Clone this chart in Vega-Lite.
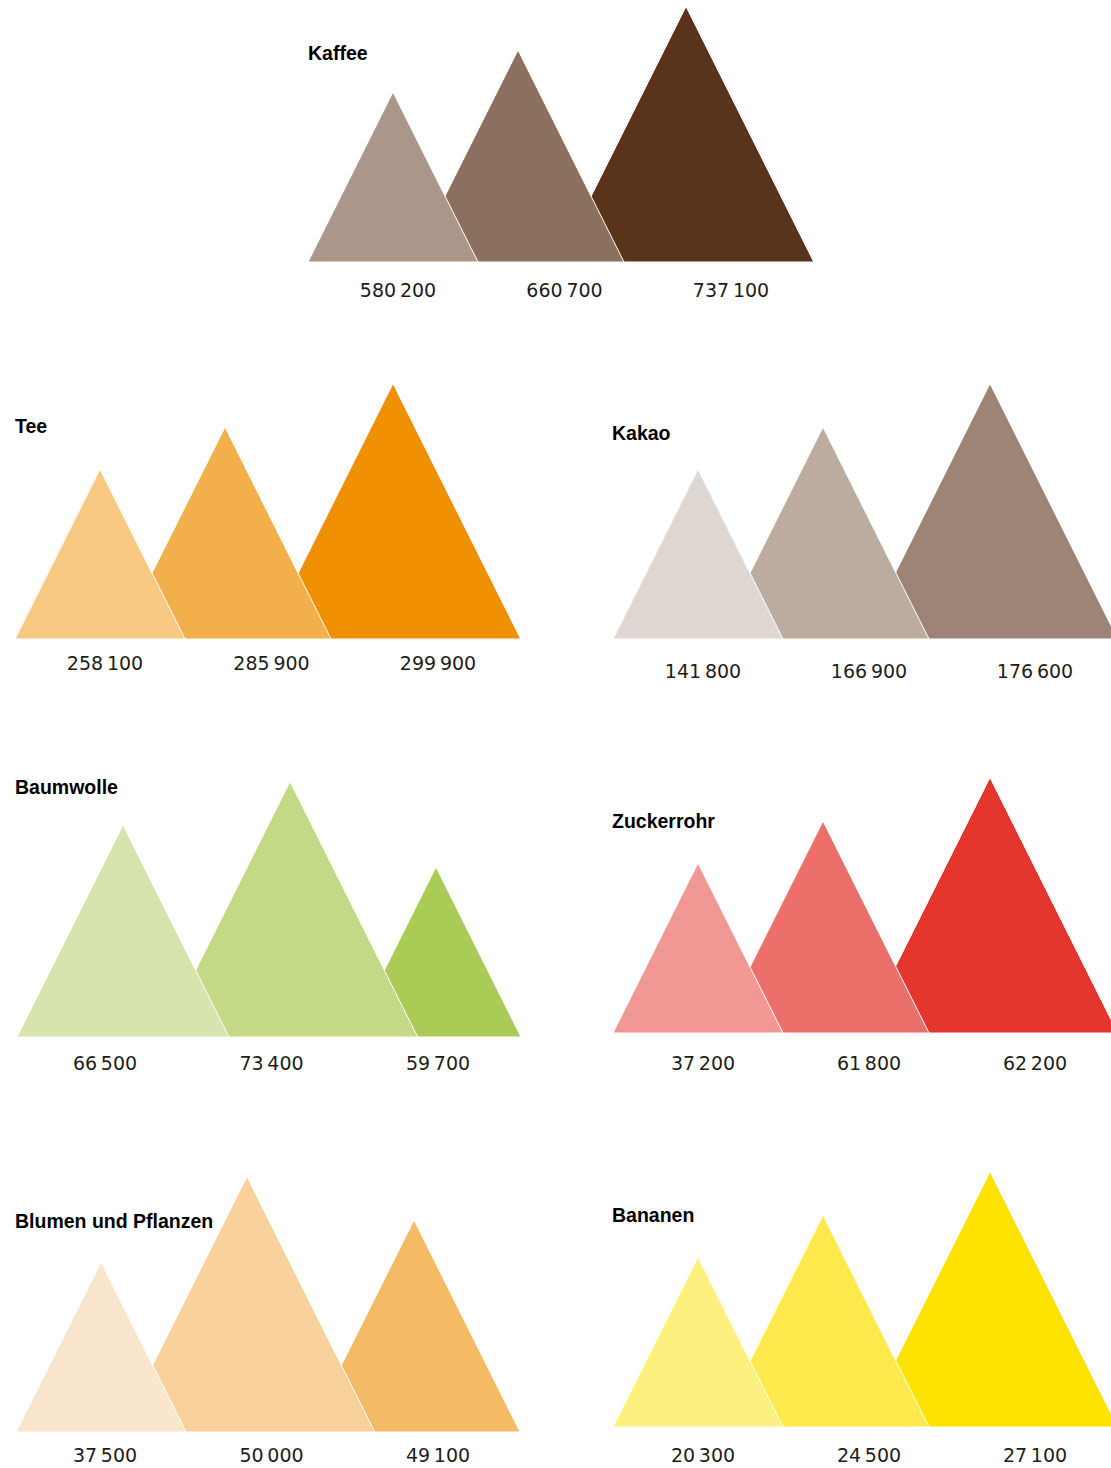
{
  "$schema": "https://vega.github.io/schema/vega-lite/v6.json",
  "padding": {"left": 13, "top": 1, "right": 0, "bottom": 0},
  "background": "white",
  "bounds": "flush",
  "spacing": 0,
  "columns": 2,
  "config": {
    "view": {"stroke": null},
    "locale": {"number": {"decimal": ",", "thousands": "\u2009", "grouping": [3], "currency": ["", " €"]}},
    "title": {"font": "Liberation Sans", "fontSize": 19.5, "fontWeight": "bold", "color": "#000000", "anchor": "start", "frame": "group", "baseline": "middle"},
    "text": {"font": "DejaVu Sans", "fontSize": 19, "color": "#1d1d1b"}
  },
  "datasets": {
    "werte": [
      {"produkt": "Kaffee", "nr": 1, "wert": 580200},
      {"produkt": "Kaffee", "nr": 2, "wert": 660700},
      {"produkt": "Kaffee", "nr": 3, "wert": 737100},
      {"produkt": "Tee", "nr": 1, "wert": 258100},
      {"produkt": "Tee", "nr": 2, "wert": 285900},
      {"produkt": "Tee", "nr": 3, "wert": 299900},
      {"produkt": "Kakao", "nr": 1, "wert": 141800},
      {"produkt": "Kakao", "nr": 2, "wert": 166900},
      {"produkt": "Kakao", "nr": 3, "wert": 176600},
      {"produkt": "Baumwolle", "nr": 1, "wert": 66500},
      {"produkt": "Baumwolle", "nr": 2, "wert": 73400},
      {"produkt": "Baumwolle", "nr": 3, "wert": 59700},
      {"produkt": "Zuckerrohr", "nr": 1, "wert": 37200},
      {"produkt": "Zuckerrohr", "nr": 2, "wert": 61800},
      {"produkt": "Zuckerrohr", "nr": 3, "wert": 62200},
      {"produkt": "Blumen und Pflanzen", "nr": 1, "wert": 37500},
      {"produkt": "Blumen und Pflanzen", "nr": 2, "wert": 50000},
      {"produkt": "Blumen und Pflanzen", "nr": 3, "wert": 49100},
      {"produkt": "Bananen", "nr": 1, "wert": 20300},
      {"produkt": "Bananen", "nr": 2, "wert": 24500},
      {"produkt": "Bananen", "nr": 3, "wert": 27100}
    ]
  },
  "resolve": {"scale": {"x": "independent", "color": "independent", "size": "independent"}},
  "concat": [
    {
      "width": 597, "height": 261,
      "data": {"name": "werte"},
      "transform": [{"filter": "datum.produkt === 'Kaffee'"}, {"window": [{"op": "rank", "as": "rang"}], "sort": [{"field": "wert", "order": "ascending"}]}],
      "title": {"text": "Kaffee", "offset": -63, "dx": 293},
      "resolve": {"scale": {"x": "independent"}},
      "layer": [
        {"mark": {"type": "point", "shape": "M0,-2L1,0L-1,0Z", "filled": true, "opacity": 1, "stroke": "white", "strokeWidth": 1, "y": "height"},
         "encoding": {
           "x": {"field": "nr", "type": "quantitative", "scale": {"domain": [1, 2, 3], "range": [378, 503, 671], "nice": false, "zero": false}, "axis": null},
           "size": {"field": "rang", "type": "quantitative", "scale": {"type": "threshold", "domain": [1.5, 2.5], "range": [28900, 44944, 65280]}, "legend": null},
           "color": {"field": "nr", "type": "ordinal", "scale": {"domain": [1, 2, 3], "range": ["#AB978A", "#8C705F", "#5A331B"]}, "legend": null},
           "order": {"field": "nr", "type": "quantitative", "sort": "descending"}
         }},
        {"mark": {"type": "text", "y": "height", "dy": 29, "baseline": "middle"},
         "encoding": {
           "x": {"field": "nr", "type": "quantitative", "scale": {"domain": [1, 3], "range": [383, 716], "nice": false, "zero": false}, "axis": null},
           "text": {"field": "wert", "type": "quantitative", "format": ",d"}
         }}
      ]
    },
    {
      "width": 499, "height": 261,
      "data": {"values": []},
      "mark": {"type": "text"},
      "encoding": {}
    },
    {
      "width": 597, "height": 377,
      "data": {"name": "werte"},
      "transform": [{"filter": "datum.produkt === 'Tee'"}, {"window": [{"op": "rank", "as": "rang"}], "sort": [{"field": "wert", "order": "ascending"}]}],
      "title": {"text": "Tee", "offset": -175},
      "resolve": {"scale": {"x": "independent"}},
      "layer": [
        {"mark": {"type": "point", "shape": "M0,-2L1,0L-1,0Z", "filled": true, "opacity": 1, "stroke": "white", "strokeWidth": 1, "y": "height"},
         "encoding": {
           "x": {"field": "nr", "type": "quantitative", "scale": {"domain": [1, 2, 3], "range": [85, 210, 378], "nice": false, "zero": false}, "axis": null},
           "size": {"field": "rang", "type": "quantitative", "scale": {"type": "threshold", "domain": [1.5, 2.5], "range": [28900, 44944, 65280]}, "legend": null},
           "color": {"field": "nr", "type": "ordinal", "scale": {"domain": [1, 2, 3], "range": ["#F7C983", "#F4AF4D", "#F08F00"]}, "legend": null},
           "order": {"field": "nr", "type": "quantitative", "sort": "descending"}
         }},
        {"mark": {"type": "text", "y": "height", "dy": 25, "baseline": "middle"},
         "encoding": {
           "x": {"field": "nr", "type": "quantitative", "scale": {"domain": [1, 3], "range": [90, 423], "nice": false, "zero": false}, "axis": null},
           "text": {"field": "wert", "type": "quantitative", "format": ",d"}
         }}
      ]
    },
    {
      "width": 499, "height": 377,
      "data": {"name": "werte"},
      "transform": [{"filter": "datum.produkt === 'Kakao'"}, {"window": [{"op": "rank", "as": "rang"}], "sort": [{"field": "wert", "order": "ascending"}]}],
      "title": {"text": "Kakao", "offset": -182},
      "resolve": {"scale": {"x": "independent"}},
      "layer": [
        {"mark": {"type": "point", "shape": "M0,-2L1,0L-1,0Z", "filled": true, "opacity": 1, "stroke": "white", "strokeWidth": 1, "y": "height", "clip": true},
         "encoding": {
           "x": {"field": "nr", "type": "quantitative", "scale": {"domain": [1, 2, 3], "range": [86, 211, 378], "nice": false, "zero": false}, "axis": null},
           "size": {"field": "rang", "type": "quantitative", "scale": {"type": "threshold", "domain": [1.5, 2.5], "range": [28900, 44944, 65280]}, "legend": null},
           "color": {"field": "nr", "type": "ordinal", "scale": {"domain": [1, 2, 3], "range": ["#DFD7D2", "#BCACA0", "#9E8476"]}, "legend": null},
           "order": {"field": "nr", "type": "quantitative", "sort": "descending"}
         }},
        {"mark": {"type": "text", "y": "height", "dy": 33, "baseline": "middle"},
         "encoding": {
           "x": {"field": "nr", "type": "quantitative", "scale": {"domain": [1, 3], "range": [91, 423], "nice": false, "zero": false}, "axis": null},
           "text": {"field": "wert", "type": "quantitative", "format": ",d"}
         }}
      ]
    },
    {
      "width": 597, "height": 398,
      "data": {"name": "werte"},
      "transform": [{"filter": "datum.produkt === 'Baumwolle'"}, {"window": [{"op": "rank", "as": "rang"}], "sort": [{"field": "wert", "order": "ascending"}]}],
      "title": {"text": "Baumwolle", "offset": -159},
      "resolve": {"scale": {"x": "independent"}},
      "layer": [
        {"mark": {"type": "point", "shape": "M0,-2L1,0L-1,0Z", "filled": true, "opacity": 1, "stroke": "white", "strokeWidth": 1, "y": "height"},
         "encoding": {
           "x": {"field": "nr", "type": "quantitative", "scale": {"domain": [1, 2, 3], "range": [108, 275, 421], "nice": false, "zero": false}, "axis": null},
           "size": {"field": "rang", "type": "quantitative", "scale": {"type": "threshold", "domain": [1.5, 2.5], "range": [28900, 44944, 65280]}, "legend": null},
           "color": {"field": "nr", "type": "ordinal", "scale": {"domain": [1, 2, 3], "range": ["#D7E4AE", "#C4DA87", "#ABCB57"]}, "legend": null},
           "order": {"field": "nr", "type": "quantitative", "sort": "descending"}
         }},
        {"mark": {"type": "text", "y": "height", "dy": 27, "baseline": "middle"},
         "encoding": {
           "x": {"field": "nr", "type": "quantitative", "scale": {"domain": [1, 3], "range": [90, 423], "nice": false, "zero": false}, "axis": null},
           "text": {"field": "wert", "type": "quantitative", "format": ",d"}
         }}
      ]
    },
    {
      "width": 499, "height": 394,
      "data": {"name": "werte"},
      "transform": [{"filter": "datum.produkt === 'Zuckerrohr'"}, {"window": [{"op": "rank", "as": "rang"}], "sort": [{"field": "wert", "order": "ascending"}]}],
      "title": {"text": "Zuckerrohr", "offset": -193},
      "resolve": {"scale": {"x": "independent"}},
      "layer": [
        {"mark": {"type": "point", "shape": "M0,-2L1,0L-1,0Z", "filled": true, "opacity": 1, "stroke": "white", "strokeWidth": 1, "y": "height", "clip": true},
         "encoding": {
           "x": {"field": "nr", "type": "quantitative", "scale": {"domain": [1, 2, 3], "range": [86, 211, 378], "nice": false, "zero": false}, "axis": null},
           "size": {"field": "rang", "type": "quantitative", "scale": {"type": "threshold", "domain": [1.5, 2.5], "range": [28900, 44944, 65280]}, "legend": null},
           "color": {"field": "nr", "type": "ordinal", "scale": {"domain": [1, 2, 3], "range": ["#F29894", "#EC6F6A", "#E5352F"]}, "legend": null},
           "order": {"field": "nr", "type": "quantitative", "sort": "descending"}
         }},
        {"mark": {"type": "text", "y": "height", "dy": 31, "baseline": "middle"},
         "encoding": {
           "x": {"field": "nr", "type": "quantitative", "scale": {"domain": [1, 3], "range": [91, 423], "nice": false, "zero": false}, "axis": null},
           "text": {"field": "wert", "type": "quantitative", "format": ",d"}
         }}
      ]
    },
    {
      "width": 597, "height": 395,
      "data": {"name": "werte"},
      "transform": [{"filter": "datum.produkt === 'Blumen und Pflanzen'"}, {"window": [{"op": "rank", "as": "rang"}], "sort": [{"field": "wert", "order": "ascending"}]}],
      "title": {"text": "Blumen und Pflanzen", "offset": -195},
      "resolve": {"scale": {"x": "independent"}},
      "layer": [
        {"mark": {"type": "point", "shape": "M0,-2L1,0L-1,0Z", "filled": true, "opacity": 1, "stroke": "white", "strokeWidth": 1, "y": "height"},
         "encoding": {
           "x": {"field": "nr", "type": "quantitative", "scale": {"domain": [1, 2, 3], "range": [86, 232, 399], "nice": false, "zero": false}, "axis": null},
           "size": {"field": "rang", "type": "quantitative", "scale": {"type": "threshold", "domain": [1.5, 2.5], "range": [28900, 44944, 65280]}, "legend": null},
           "color": {"field": "nr", "type": "ordinal", "scale": {"domain": [1, 2, 3], "range": ["#FAE6CC", "#F8D29A", "#F5BA66"]}, "legend": null},
           "order": {"field": "nr", "type": "quantitative", "sort": "descending"}
         }},
        {"mark": {"type": "text", "y": "height", "dy": 24, "baseline": "middle"},
         "encoding": {
           "x": {"field": "nr", "type": "quantitative", "scale": {"domain": [1, 3], "range": [90, 423], "nice": false, "zero": false}, "axis": null},
           "text": {"field": "wert", "type": "quantitative", "format": ",d"}
         }}
      ]
    },
    {
      "width": 499, "height": 390,
      "data": {"name": "werte"},
      "transform": [{"filter": "datum.produkt === 'Bananen'"}, {"window": [{"op": "rank", "as": "rang"}], "sort": [{"field": "wert", "order": "ascending"}]}],
      "title": {"text": "Bananen", "offset": -189},
      "resolve": {"scale": {"x": "independent"}},
      "layer": [
        {"mark": {"type": "point", "shape": "M0,-2L1,0L-1,0Z", "filled": true, "opacity": 1, "stroke": "white", "strokeWidth": 1, "y": "height", "clip": true},
         "encoding": {
           "x": {"field": "nr", "type": "quantitative", "scale": {"domain": [1, 2, 3], "range": [86, 211, 378], "nice": false, "zero": false}, "axis": null},
           "size": {"field": "rang", "type": "quantitative", "scale": {"type": "threshold", "domain": [1.5, 2.5], "range": [28900, 44944, 65280]}, "legend": null},
           "color": {"field": "nr", "type": "ordinal", "scale": {"domain": [1, 2, 3], "range": ["#FEF07F", "#FFEA4E", "#FFE300"]}, "legend": null},
           "order": {"field": "nr", "type": "quantitative", "sort": "descending"}
         }},
        {"mark": {"type": "text", "y": "height", "dy": 29, "baseline": "middle"},
         "encoding": {
           "x": {"field": "nr", "type": "quantitative", "scale": {"domain": [1, 3], "range": [91, 423], "nice": false, "zero": false}, "axis": null},
           "text": {"field": "wert", "type": "quantitative", "format": ",d"}
         }}
      ]
    }
  ]
}
